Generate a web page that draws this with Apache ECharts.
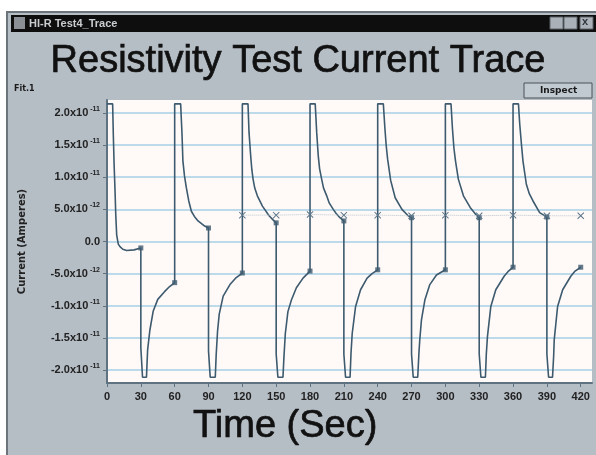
<!DOCTYPE html>
<html>
<head>
<meta charset="utf-8">
<title>Resistivity Test Current Trace</title>
<script src="https://cdn.jsdelivr.net/npm/echarts@6/dist/echarts.min.js"></script>
<style>
  html, body { margin: 0; padding: 0; background: #fff; }
  #chart { width: 596px; height: 455px; }
</style>
</head>
<body>
<div id="chart"></div>
<script>
// time in seconds, current in pA (1 pA = 1x10^-12 A)
// one segment for each 30 s half cycle of the test voltage
const seg01 = [[0, 21.4], [5, 21.4], [5.6, 16.6], [6.3, 12.0], [7.1, 8.0], [7.8, 4.0], [8.6, 1.0], [10, -0.4], [11.5, -0.8], [14, -1.2], [17.5, -1.4], [24, -1.3], [30, -1.0]];
const seg02 = [[30, -16.5], [31.5, -21.1], [35, -21.1], [36, -16.9], [38, -13.8], [41, -10.8], [45, -9.0], [51, -7.8], [55.5, -7.0], [60, -6.4]];
const seg03 = [[60, 21.4], [65.3, 21.4], [66.5, 16.7], [67.3, 12.5], [68.7, 10.2], [70.3, 8.4], [72.5, 6.3], [74.8, 4.7], [77.5, 3.9], [80.7, 3.2], [86.6, 2.4], [90, 2.1]];
const seg04 = [[90, -17.0], [91.5, -21.1], [96, -21.1], [96.8, -17.6], [98, -14.0], [99.5, -11.3], [103, -8.5], [109, -6.7], [114, -5.7], [120, -4.9]];
const seg05 = [[120, 21.4], [125, 21.4], [125.9, 17.0], [127.4, 13.3], [128.4, 11.2], [129.5, 9.7], [131, 8.3], [133.3, 7.1], [137.8, 5.5], [143.7, 4.0], [147, 3.4], [150, 2.9]];
const seg06 = [[150, -17.5], [151.5, -21.1], [156, -21.1], [156.9, -17.9], [158.1, -14.3], [160.4, -10.9], [163.5, -9.1], [167.9, -7.2], [173.8, -5.7], [180, -4.6]];
const seg07 = [[180, 21.4], [184.6, 21.4], [185.9, 17.0], [187.3, 13.3], [188.5, 11.3], [190.3, 9.7], [192, 8.3], [194.8, 7.1], [197, 6.0], [200.6, 5.0], [203, 4.4], [206.5, 3.7], [210, 3.2]];
const seg08 = [[210, -17.5], [211.5, -21.1], [215.5, -21.1], [216.3, -17.5], [217.4, -14.3], [220.4, -10.1], [224.8, -7.5], [230.6, -5.7], [235, -5.0], [240, -4.4]];
const seg09 = [[240, 21.4], [245, 21.4], [246.3, 17.8], [247.5, 15.0], [248.8, 12.8], [251.5, 9.5], [255.5, 6.8], [261.5, 5.0], [267, 4.0], [270, 3.7]];
const seg10 = [[270, -17.5], [271.5, -21.1], [275.5, -21.1], [276.5, -17.5], [277.3, -15.3], [278.8, -12.2], [281.8, -9.1], [286.2, -6.7], [292.1, -5.2], [300, -4.4]];
const seg11 = [[300, 21.4], [305, 21.4], [306.3, 17.5], [307.6, 14.5], [309, 12.5], [311.5, 9.7], [316, 7.1], [322, 5.3], [327, 4.2], [330, 3.7]];
const seg12 = [[330, -17.5], [331.5, -21.1], [335.5, -21.1], [336.3, -17.5], [337.3, -14.8], [340.3, -10.1], [344.7, -7.5], [352.1, -5.4], [356, -4.6], [360, -4.0]];
const seg13 = [[360, 21.4], [364.8, 21.4], [365.9, 18.3], [367.4, 15.2], [368.8, 12.5], [371.8, 8.9], [374.5, 7.4], [377.7, 6.3], [383.6, 4.5], [390, 3.8]];
const seg14 = [[390, -17.5], [391.5, -21.1], [395, -21.1], [396, -17.8], [396.5, -15.3], [399.5, -10.1], [404, -7.5], [411.2, -5.4], [415, -4.6], [420, -4.0]];
const segments = [seg01, seg02, seg03, seg04, seg05, seg06, seg07, seg08, seg09, seg10, seg11, seg12, seg13, seg14];

// "x" markers
const avgTimes = [120, 150, 180, 210, 240, 270, 300, 330, 360, 390, 420];
const avgValues = [4.1, 4.1, 4.2, 4.1, 4.1, 4.0, 4.1, 4.0, 4.1, 4.0, 4.0];

// axis ticks
const xTicks = [0, 30, 60, 90, 120, 150, 180, 210, 240, 270, 300, 330, 360, 390, 420];
const yTicks = [20, 15, 10, 5, 0, -5, -10, -15, -20];
const yTickText = ['2.0x10', '1.5x10', '1.0x10', '5.0x10', '0.0', '-5.0x10', '-1.0x10', '-1.5x10', '-2.0x10'];
const yTickExp = ['-11', '-11', '-11', '-12', '', '-12', '-11', '-11', '-11'];

const traceData = [].concat(...segments);
const readings = segments.map(s => s[s.length - 1]);
const avgData = avgTimes.map((t, i) => [t, avgValues[i]]);

const traceColor = '#3d5a6e';
const axisColor = '#5e7282';
const winColor = '#b5bdc5';
const xMark = 'path://M0,1L1,0L5,4L9,0L10,1L6,5L10,9L9,10L5,6L1,10L0,9L4,5Z';
const bigFont = '"Liberation Sans", Arial, sans-serif';

const chart = echarts.init(document.getElementById('chart'));
chart.setOption({
  animation: false,
  backgroundColor: '#ffffff',
  graphic: [
    // window frame
    { type: 'rect', z: -10, shape: { x: 7, y: 12, width: 600, height: 450 }, style: { fill: winColor, stroke: '#6c737a', lineWidth: 2 } },
    { type: 'rect', z: -9, shape: { x: 11, y: 15, width: 590, height: 17 }, style: { fill: '#0e0e0e' } },
    { type: 'rect', z: -8, shape: { x: 14, y: 17, width: 11, height: 12 }, style: { fill: '#8a9096' } },
    { type: 'text', z: -8, left: 29, top: 18, style: { text: 'HI-R Test4_Trace', fill: '#c9cdd0', font: 'bold 11px "Liberation Sans", Arial, sans-serif' } },
    { type: 'rect', z: -8, shape: { x: 550, y: 17, width: 13, height: 12 }, style: { fill: '#aab1b8', stroke: '#5c6268', lineWidth: 1 } },
    { type: 'rect', z: -8, shape: { x: 564, y: 17, width: 13, height: 12 }, style: { fill: '#aab1b8', stroke: '#5c6268', lineWidth: 1 } },
    { type: 'rect', z: -8, shape: { x: 580, y: 17, width: 13, height: 12 }, style: { fill: '#aab1b8', stroke: '#5c6268', lineWidth: 1 } },
    { type: 'text', z: -7, left: 582, top: 16, style: { text: 'x', fill: '#30363c', font: 'bold 11px "Liberation Sans", Arial, sans-serif' } },
    { type: 'text', z: -7, left: 14, top: 85, style: { text: 'Fit.1', fill: '#1a1a1a', font: 'bold 8px "DejaVu Sans", sans-serif' } },
    // Inspect button
    { type: 'rect', z: -8, shape: { x: 524, y: 83, width: 68, height: 15 }, style: { fill: '#c2cad1', stroke: '#4a5058', lineWidth: 1 } },
    { type: 'text', z: -7, left: 540, top: 86, style: { text: 'Inspect', fill: '#1a1a1a', font: 'bold 9px "DejaVu Sans", sans-serif' } }
  ],
  title: [
    {
      text: 'Resistivity Test Current Trace',
      left: 'center',
      top: 43,
      padding: 0,
      textStyle: { fontSize: 38, fontWeight: 'normal', color: '#111', fontFamily: bigFont, textBorderColor: '#111', textBorderWidth: 0.7 }
    },
    {
      text: 'Time (Sec)',
      left: 193,
      top: 408,
      padding: 0,
      textStyle: { fontSize: 38, fontWeight: 'normal', color: '#111', fontFamily: bigFont, textBorderColor: '#111', textBorderWidth: 0.7 }
    }
  ],
  grid: {
    left: 107,
    top: 100,
    right: 4,
    bottom: 72,
    show: true,
    backgroundColor: '#fffaf8',
    borderWidth: 0
  },
  xAxis: {
    type: 'value',
    min: 0,
    max: 430,
    axisLine: { show: true, onZero: false, lineStyle: { color: axisColor, width: 2 } },
    axisTick: { show: true, customValues: xTicks, length: 4, lineStyle: { color: axisColor } },
    axisLabel: {
      customValues: xTicks,
      margin: 8,
      fontSize: 11,
      fontWeight: 'bold',
      color: '#222',
      fontFamily: bigFont
    },
    splitLine: { show: false }
  },
  yAxis: {
    type: 'value',
    min: -22,
    max: 22,
    name: 'Current (Amperes)',
    nameLocation: 'middle',
    nameGap: 80,
    nameRotate: 90,
    nameTextStyle: { fontSize: 10, fontWeight: 'bold', color: '#222', fontFamily: '"DejaVu Sans", sans-serif' },
    axisLine: { show: true, onZero: false, lineStyle: { color: axisColor, width: 2 } },
    axisTick: { show: true, customValues: yTicks, length: 4, lineStyle: { color: axisColor } },
    axisLabel: {
      customValues: yTicks,
      margin: 7,
      formatter: function (v) {
        const i = yTicks.indexOf(v);
        if (i < 0) return '';
        return yTickExp[i] ? '{m|' + yTickText[i] + '}{e|' + yTickExp[i] + '}' : '{m|' + yTickText[i] + '}';
      },
      rich: {
        m: { fontSize: 11, fontWeight: 'bold', color: '#222', fontFamily: bigFont },
        e: { fontSize: 7, fontWeight: 'bold', color: '#222', fontFamily: bigFont, padding: [0, 0, 8, 2] }
      }
    },
    splitLine: { show: true, lineStyle: { color: '#a6cfe6', width: 1.5 } }
  },
  series: [
    {
      name: 'Current',
      type: 'line',
      data: traceData,
      showSymbol: false,
      lineStyle: { color: traceColor, width: 1.6 },
      z: 3
    },
    {
      name: 'Reading',
      type: 'scatter',
      data: readings,
      symbol: 'rect',
      symbolSize: 5,
      itemStyle: { color: traceColor },
      z: 4
    },
    {
      name: 'Average',
      type: 'line',
      data: avgData,
      symbol: xMark,
      symbolSize: 7,
      showSymbol: true,
      itemStyle: { color: '#5a7488' },
      lineStyle: { color: '#b8c6cf', width: 1, type: 'dotted' },
      z: 4
    }
  ]
});
</script>
</body>
</html>
